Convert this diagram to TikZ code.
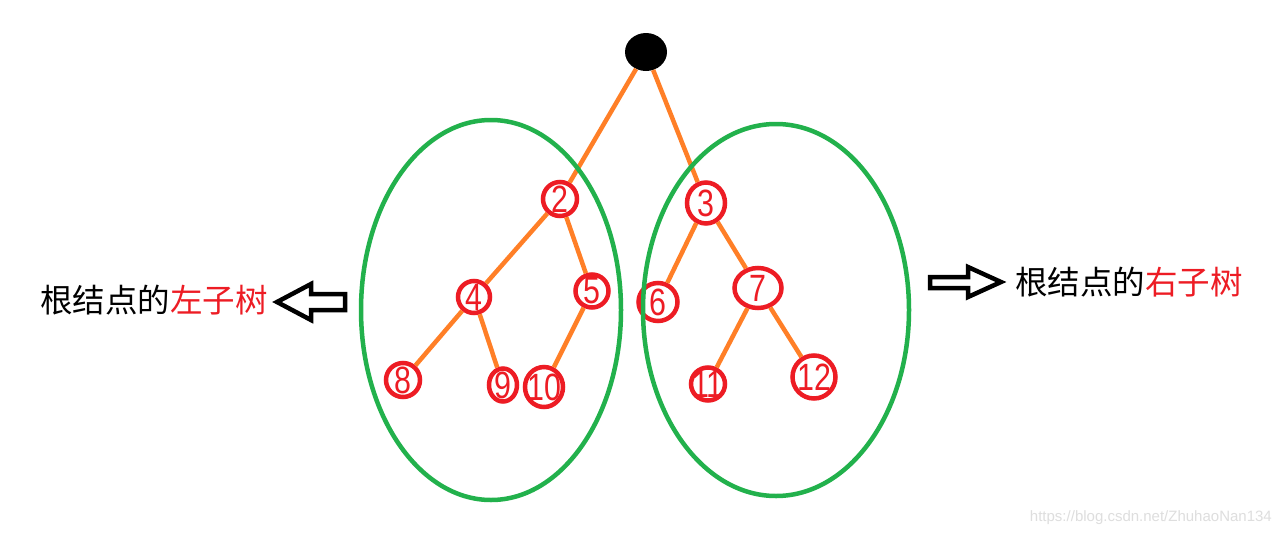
\documentclass[tikz,border=0pt]{standalone}
\usepackage{fontspec}
\setmainfont{Liberation Sans}
\newfontfamily\cjk{Noto Sans CJK SC}
\newfontfamily\numfont[FakeStretch=0.8]{Liberation Sans}
\usetikzlibrary{shapes.geometric}
\definecolor{pred}{RGB}{237,28,36}
\definecolor{porange}{RGB}{255,127,39}
\definecolor{pgreen}{RGB}{34,177,76}
\definecolor{wmark}{RGB}{222,222,222}
\tikzset{
  numlbl/.style={text=pred, font=\numfont\fontsize{38}{38}\selectfont, inner sep=0pt},
  edge/.style={draw=porange, line width=4.5pt},
  subtree/.style={draw=pgreen, line width=4.5pt},
  harrow/.style={draw=black, line width=4.5pt, line join=miter, fill=white},
  lbl/.style={font=\cjk\fontsize{32.5}{34}\selectfont, inner sep=0pt}
}
\newcommand{\tn}[5]{\node[ellipse, draw=pred, line width=4.5pt, inner sep=0pt, minimum width=#3, minimum height=#4] (#1) at (#2) {};
  \node[numlbl] (#1t) at (#1) {#5};}
\begin{document}
\begin{tikzpicture}[x=1pt,y=-1pt]
\useasboundingbox[fill=white] (0,0) rectangle (1282,536);
% root
\node[ellipse, fill=black, inner sep=0pt, minimum width=42pt, minimum height=38pt] (root) at (646,52) {};
% tree nodes
\tn{n2}{560,199}{34pt}{34pt}{2}
\tn{n4}{474,297}{32pt}{32pt}{4}
\tn{n5}{592,291}{33pt}{33pt}{5}
\tn{n8}{403,380}{34pt}{34pt}{8}
\tn{n9}{503,385}{28pt}{33pt}{9}
\tn{n10}{544,387}{38pt}{40pt}{10}
\tn{n3}{706,203}{38pt}{41pt}{3}
\tn{n6}{658,302}{39pt}{38pt}{6}
\tn{n7}{758,288}{47pt}{40pt}{7}
\tn{n11}{708,384}{34pt}{33pt}{11}
\tn{n12}{814,377}{43pt}{43pt}{12}
% edges
\draw[edge] (root) -- (n2);
\draw[edge] (root) -- (n3);
\draw[edge] (n2) -- (n4);
\draw[edge] (n2) -- (n5);
\draw[edge] (n4) -- (n8);
\draw[edge] (n4) -- (n9);
\draw[edge] (n5) -- (n10);
\draw[edge] (n3) -- (n6);
\draw[edge] (n3) -- (n7);
\draw[edge] (n7) -- (n11);
\draw[edge] (n7) -- (n12);
% subtrees
\draw[subtree] (491,310) ellipse [x radius=130pt, y radius=190pt];
\draw[subtree] (776,310) ellipse [x radius=133pt, y radius=186pt];
% hollow arrows
\draw[harrow] (277,302) -- (311,284) -- (311,294) -- (345,294) -- (345,310) -- (311,310) -- (311,320) -- cycle;
\draw[harrow] (1001,282) -- (968,267) -- (968,277) -- (930,277) -- (930,288) -- (968,288) -- (968,297) -- cycle;
% labels
\node[lbl, anchor=west] (ll) at (40,300) {根结点的\textcolor{pred}{左子树}};
\node[lbl, anchor=west] (rl) at (1015,282) {根结点的\textcolor{pred}{右子树}};
% watermark
\node[anchor=east, text=wmark, font=\fontsize{15}{15}\selectfont, inner sep=0pt] (wm) at (1272,518) {https://blog.csdn.net/ZhuhaoNan134};
\end{tikzpicture}
\end{document}
